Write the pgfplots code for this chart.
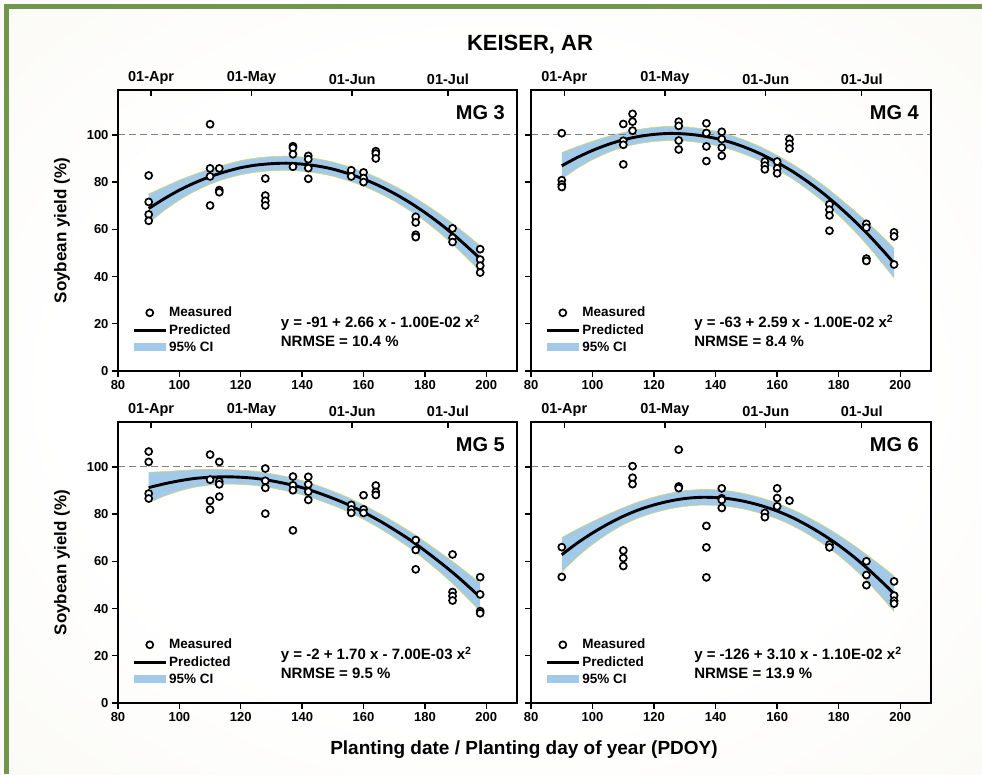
\documentclass[border=0pt]{standalone}
\usepackage{fontspec}
\setmainfont{Liberation Sans}
\usepackage{pgfplots}
\usepackage{pgfplotstable}
\pgfplotsset{compat=1.18}

\definecolor{cifill}{RGB}{163,201,233}
\definecolor{ciedge}{RGB}{205,216,120}
\definecolor{framegreen}{RGB}{112,150,78}
\definecolor{bgbeige}{RGB}{238,235,221}
\definecolor{bgmid}{RGB}{250,249,244}
\pgfdeclareradialshading{bgshade}{\pgfpoint{0bp}{0bp}}{color(0bp)=(white); color(22bp)=(white); color(38bp)=(bgmid); color(50bp)=(bgbeige); color(75bp)=(bgbeige)}

\pgfplotstableread{
x y lo hi
90 68.8 62.6 75.0
95 72.9 67.9 77.9
100 76.6 72.4 80.8
105 79.7 76.1 83.3
110 82.3 79.1 85.5
115 84.4 81.4 87.4
120 86.1 83.1 89.1
125 87.2 84.2 90.2
130 87.8 84.8 90.8
135 88.0 85.0 91.0
140 87.6 84.6 90.6
145 86.8 83.8 89.8
150 85.5 82.5 88.5
155 83.6 80.6 86.6
160 81.3 78.3 84.3
165 78.5 75.4 81.6
170 75.2 72.0 78.4
175 71.4 68.0 74.8
180 67.1 63.5 70.7
185 62.3 58.3 66.3
190 57.0 52.5 61.5
195 51.2 46.1 56.3
198 47.5 42.0 53.0
}\tblA

\pgfplotstableread{
x y lo hi
90 86.9 81.3 92.5
95 90.4 85.8 95.0
100 93.4 89.5 97.3
105 95.9 92.5 99.3
110 97.9 94.8 101.0
115 99.3 96.3 102.3
120 100.2 97.2 103.2
125 100.6 97.6 103.6
130 100.4 97.4 103.4
135 99.7 96.7 102.7
140 98.5 95.5 101.5
145 96.8 93.8 99.8
150 94.5 91.5 97.5
155 91.7 88.7 94.7
160 88.3 85.3 91.3
165 84.5 81.4 87.6
170 80.1 76.8 83.4
175 75.2 71.7 78.7
180 69.7 65.9 73.5
185 63.7 59.4 68.0
190 57.2 52.2 62.2
195 50.1 44.3 55.9
198 45.6 39.3 51.9
}\tblB

\pgfplotstableread{
x y lo hi
90 91.2 84.7 97.7
95 92.8 87.6 98.0
100 94.1 89.8 98.4
105 95.1 91.4 98.8
110 95.6 92.3 98.9
115 95.8 92.7 98.9
120 95.6 92.6 98.6
125 95.1 92.1 98.1
130 94.1 91.1 97.1
135 92.8 89.8 95.8
140 91.2 88.2 94.2
145 89.1 86.1 92.1
150 86.7 83.7 89.7
155 84.0 81.0 87.0
160 80.8 77.8 83.8
165 77.3 74.2 80.4
170 73.4 70.1 76.7
175 69.2 65.7 72.7
180 64.5 60.7 68.3
185 59.5 55.3 63.7
190 54.2 49.4 59.0
195 48.4 42.9 53.9
198 44.8 38.8 50.8
}\tblC

\pgfplotstableread{
x y lo hi
90 62.8 55.5 70.1
95 67.7 61.8 73.6
100 72.0 67.2 76.8
105 75.8 71.7 79.9
110 79.1 75.5 82.7
115 81.8 78.4 85.2
120 83.9 80.6 87.2
125 85.5 82.2 88.8
130 86.6 83.3 89.9
135 87.1 83.8 90.4
140 87.0 83.7 90.3
145 86.4 83.1 89.7
150 85.2 81.9 88.5
155 83.5 80.2 86.8
160 81.3 78.0 84.6
165 78.5 75.1 81.9
170 75.1 71.5 78.7
175 71.2 67.3 75.1
180 66.8 62.5 71.1
185 61.8 56.9 66.7
190 56.2 50.5 61.9
195 50.1 43.3 56.9
198 46.2 38.7 53.7
}\tblD

\pgfplotsset{
  meas/.style={only marks, mark=*, mark size=3.5pt, mark options={fill=white, draw=black, line width=1.7pt}},
  panel/.style={scale only axis, xmin=80, xmax=210, ymin=0, ymax=119,
    axis line style={line width=1.8pt},
    xtick={80,100,...,200}, ytick={0,20,...,100},
    xtick pos=left, ytick pos=left, tick align=outside, major tick length=6pt,
    every tick/.style={black, line width=1.4pt},
    tick label style={font=\fontsize{13}{13}\selectfont\bfseries},
    /pgf/number format/assume math mode=true,
    legend cell align=left,
    legend image code/.code={\draw[mark repeat=2,mark phase=2,##1] plot coordinates {(0pt,0pt) (16pt,0pt) (32pt,0pt)};},
    legend style={draw=none, fill=none, at={(axis description cs:0.0354,0.235)}, anchor=north west,
      font=\fontsize{13.5}{13.5}\selectfont\bfseries, inner sep=0pt, row sep=2pt,
      nodes={inner sep=2pt}},
    every axis y label/.style={at={(axis description cs:0,0.5)}, xshift=-56pt, rotate=90, anchor=center,
      font=\fontsize{17}{17}\selectfont\bfseries},
  },
  dates/.style={scale only axis, xmin=80, xmax=210, ymin=0, ymax=119,
    axis line style={line width=1.8pt},
    ytick=\empty,
    xtick pos=right, xticklabel pos=right, xtick align=inside, major tick length=6pt,
    every tick/.style={black, line width=1.4pt},
    xtick={90.8,123.5,156.3,187.5}, xticklabels={01-Apr,01-May,01-Jun,01-Jul},
    xticklabel style={font=\fontsize{14.5}{14.5}\selectfont\bfseries, yshift=2pt},
  },
}

% #1 curve table, #2 band polygon (upper edge forward, lower edge back), #3 measured points
\newcommand{\drawpanel}[3]{%
  \addplot[fill=cifill, draw=none, forget plot] coordinates {#2} -- cycle;
  \addplot[ciedge, line width=0.6pt, smooth, forget plot] table[x=x,y=hi]{#1};
  \addplot[ciedge, line width=0.6pt, smooth, forget plot] table[x=x,y=lo]{#1};
  \addplot[gray, dash pattern=on 7pt off 4pt, line width=1.1pt, forget plot] coordinates {(80,100) (210,100)};
  \addplot[black, line width=2.9pt, smooth, forget plot] table[x=x,y=y]{#1};
  \addplot[meas, forget plot] coordinates {#3};
  \addlegendimage{meas}\addlegendentry{Measured}
  \addlegendimage{black, line width=2.9pt}\addlegendentry{Predicted}
  \addlegendimage{legend image code/.code={\fill[cifill] (0pt,-3.5pt) rectangle (31pt,3.5pt);}}\addlegendentry{95\% CI}
}

\newcommand{\mglabel}[1]{\node[anchor=north east, inner sep=0pt, font=\fontsize{20}{20}\selectfont\bfseries, xshift=-12pt, yshift=-15pt] at (axis description cs:1,1) {#1};}
\newcommand{\eqlabel}[2]{%
  \node[anchor=west, inner sep=0pt, font=\fontsize{15}{15}\selectfont\bfseries] at (axis cs:133,20.3) {#1};
  \node[anchor=west, inner sep=0pt, font=\fontsize{15}{15}\selectfont\bfseries] at (axis cs:133,12.5) {#2};}
\newcommand{\dateaxis}{\addplot[draw=none, forget plot] coordinates {(80,0) (210,119)};}

\begin{document}
\begin{tikzpicture}
\shade[shading=bgshade] (0pt,0pt) rectangle (982pt,774pt);
\fill[framegreen] (4pt,0pt) rectangle (8.5pt,769.5pt);
\fill[framegreen] (4pt,765pt) rectangle (982pt,769.5pt);

\node[font=\fontsize{22}{22}\selectfont\bfseries] at (530pt,729pt) {KEISER, AR};
\node[font=\fontsize{19}{19}\selectfont\bfseries] at (524pt,24pt) {Planting date / Planting day of year (PDOY)};

% ---------- MG 3 ----------
\begin{axis}[panel, at={(118pt,403pt)}, anchor=south west, width=399pt, height=281pt,
  ylabel={Soybean yield (\%)}]
\drawpanel{\tblA}{(90,75.0)(95,77.9)(100,80.8)(105,83.3)(110,85.5)(115,87.4)(120,89.1)(125,90.2)(130,90.8)(135,91.0)(140,90.6)(145,89.8)(150,88.5)(155,86.6)(160,84.3)(165,81.6)(170,78.4)(175,74.8)(180,70.7)(185,66.3)(190,61.5)(195,56.3)(198,53.0)
(198,42.0)(195,46.1)(190,52.5)(185,58.3)(180,63.5)(175,68.0)(170,72.0)(165,75.4)(160,78.3)(155,80.6)(150,82.5)(145,83.8)(140,84.6)(135,85.0)(130,84.8)(125,84.2)(120,83.1)(115,81.4)(110,79.1)(105,76.1)(100,72.4)(95,67.9)(90,62.6)}
{(90,82.8)(90,71.6)(90,66.3)(90,63.6)
(110,104.5)(110,85.8)(110,82.4)(110,70.1)
(113,85.8)(113,76.6)(113,75.7)
(128,81.5)(128,74.3)(128,72.1)(128,70.1)
(137,95.2)(137,94.5)(137,91.8)(137,86.5)
(142,91.1)(142,89.7)(142,85.9)(142,81.4)
(156,85.0)(156,82.4)
(160,84.1)(160,81.7)(160,80.0)
(164,93.1)(164,92.1)(164,90.0)
(177,65.3)(177,62.9)(177,57.7)(177,56.7)
(189,60.4)(189,56.4)(189,54.6)
(198,51.6)(198,47.2)(198,44.6)(198,41.7)}
\mglabel{MG 3}
\eqlabel{y = -91 + 2.66 x - 1.00E-02 x\textsuperscript{2}}{NRMSE = 10.4 \%}
\end{axis}
\begin{axis}[dates, at={(118pt,403pt)}, anchor=south west, width=399pt, height=281pt]
\dateaxis
\end{axis}

% ---------- MG 4 ----------
\begin{axis}[panel, at={(531pt,403pt)}, anchor=south west, width=400pt, height=281pt,
  yticklabels={}]
\drawpanel{\tblB}{(90,92.5)(95,95.0)(100,97.3)(105,99.3)(110,101.0)(115,102.3)(120,103.2)(125,103.6)(130,103.4)(135,102.7)(140,101.5)(145,99.8)(150,97.5)(155,94.7)(160,91.3)(165,87.6)(170,83.4)(175,78.7)(180,73.5)(185,68.0)(190,62.2)(195,55.9)(198,51.9)
(198,39.3)(195,44.3)(190,52.2)(185,59.4)(180,65.9)(175,71.7)(170,76.8)(165,81.4)(160,85.3)(155,88.7)(150,91.5)(145,93.8)(140,95.5)(135,96.7)(130,97.4)(125,97.6)(120,97.2)(115,96.3)(110,94.8)(105,92.5)(100,89.5)(95,85.8)(90,81.3)}
{(90,100.7)(90,80.8)(90,79.0)(90,77.9)
(110,104.6)(110,97.5)(110,95.8)(110,87.5)
(113,108.9)(113,105.6)(113,101.8)
(128,105.6)(128,103.8)(128,97.6)(128,93.8)
(137,104.9)(137,100.8)(137,95.1)(137,88.9)
(142,101.3)(142,98.2)(142,94.6)(142,91.1)
(156,88.7)(156,87.0)(156,85.4)
(160,88.7)(160,85.8)(160,83.7)
(164,98.2)(164,96.2)(164,94.2)
(177,70.6)(177,68.3)(177,65.9)(177,59.4)
(189,62.3)(189,60.7)(189,47.6)(189,46.6)
(198,58.7)(198,57.0)(198,45.1)}
\mglabel{MG 4}
\eqlabel{y = -63 + 2.59 x - 1.00E-02 x\textsuperscript{2}}{NRMSE = 8.4 \%}
\end{axis}
\begin{axis}[dates, at={(531pt,403pt)}, anchor=south west, width=400pt, height=281pt]
\dateaxis
\end{axis}

% ---------- MG 5 ----------
\begin{axis}[panel, at={(118pt,71pt)}, anchor=south west, width=399pt, height=281pt,
  ylabel={Soybean yield (\%)}]
\drawpanel{\tblC}{(90,97.7)(95,98.0)(100,98.4)(105,98.8)(110,98.9)(115,98.9)(120,98.6)(125,98.1)(130,97.1)(135,95.8)(140,94.2)(145,92.1)(150,89.7)(155,87.0)(160,83.8)(165,80.4)(170,76.7)(175,72.7)(180,68.3)(185,63.7)(190,59.0)(195,53.9)(198,50.8)
(198,38.8)(195,42.9)(190,49.4)(185,55.3)(180,60.7)(175,65.7)(170,70.1)(165,74.2)(160,77.8)(155,81.0)(150,83.7)(145,86.1)(140,88.2)(135,89.8)(130,91.1)(125,92.1)(120,92.6)(115,92.7)(110,92.3)(105,91.4)(100,89.8)(95,87.6)(90,84.7)}
{(90,106.5)(90,102.1)(90,88.7)(90,86.6)
(110,105.2)(110,94.6)(110,85.6)(110,81.9)
(113,102.1)(113,93.8)(113,92.6)(113,87.4)
(128,99.3)(128,94.1)(128,91.1)(128,80.2)
(137,95.9)(137,92.2)(137,90.1)(137,73.1)
(142,95.8)(142,92.6)(142,89.5)(142,86.0)
(156,83.9)(156,82.0)(156,80.5)
(160,88.0)(160,82.0)(160,80.5)
(164,92.1)(164,89.4)(164,88.1)
(177,69.0)(177,64.8)(177,56.6)
(189,62.9)(189,47.0)(189,45.3)(189,43.4)
(198,53.3)(198,46.0)(198,38.9)(198,38.0)}
\mglabel{MG 5}
\eqlabel{y = -2 + 1.70 x - 7.00E-03 x\textsuperscript{2}}{NRMSE = 9.5 \%}
\end{axis}
\begin{axis}[dates, at={(118pt,71pt)}, anchor=south west, width=399pt, height=281pt]
\dateaxis
\end{axis}

% ---------- MG 6 ----------
\begin{axis}[panel, at={(531pt,71pt)}, anchor=south west, width=400pt, height=281pt,
  yticklabels={}]
\drawpanel{\tblD}{(90,70.1)(95,73.6)(100,76.8)(105,79.9)(110,82.7)(115,85.2)(120,87.2)(125,88.8)(130,89.9)(135,90.4)(140,90.3)(145,89.7)(150,88.5)(155,86.8)(160,84.6)(165,81.9)(170,78.7)(175,75.1)(180,71.1)(185,66.7)(190,61.9)(195,56.9)(198,53.7)
(198,38.7)(195,43.3)(190,50.5)(185,56.9)(180,62.5)(175,67.3)(170,71.5)(165,75.1)(160,78.0)(155,80.2)(150,81.9)(145,83.1)(140,83.7)(135,83.8)(130,83.3)(125,82.2)(120,80.6)(115,78.4)(110,75.5)(105,71.7)(100,67.2)(95,61.8)(90,55.5)}
{(90,66.0)(90,53.4)
(110,64.6)(110,61.4)(110,58.0)
(113,100.3)(113,95.4)(113,92.7)
(128,107.3)(128,91.7)(128,91.0)
(137,75.0)(137,65.9)(137,53.2)
(142,90.9)(142,86.7)(142,86.0)(142,82.6)
(156,80.5)(156,78.7)
(160,90.9)(160,86.8)(160,83.3)
(164,85.7)
(177,67.1)(177,65.9)
(189,60.0)(189,54.2)(189,49.9)
(198,51.5)(198,45.5)(198,43.3)(198,42.1)}
\mglabel{MG 6}
\eqlabel{y = -126 + 3.10 x - 1.10E-02 x\textsuperscript{2}}{NRMSE = 13.9 \%}
\end{axis}
\begin{axis}[dates, at={(531pt,71pt)}, anchor=south west, width=400pt, height=281pt]
\dateaxis
\end{axis}
\end{tikzpicture}
\end{document}
